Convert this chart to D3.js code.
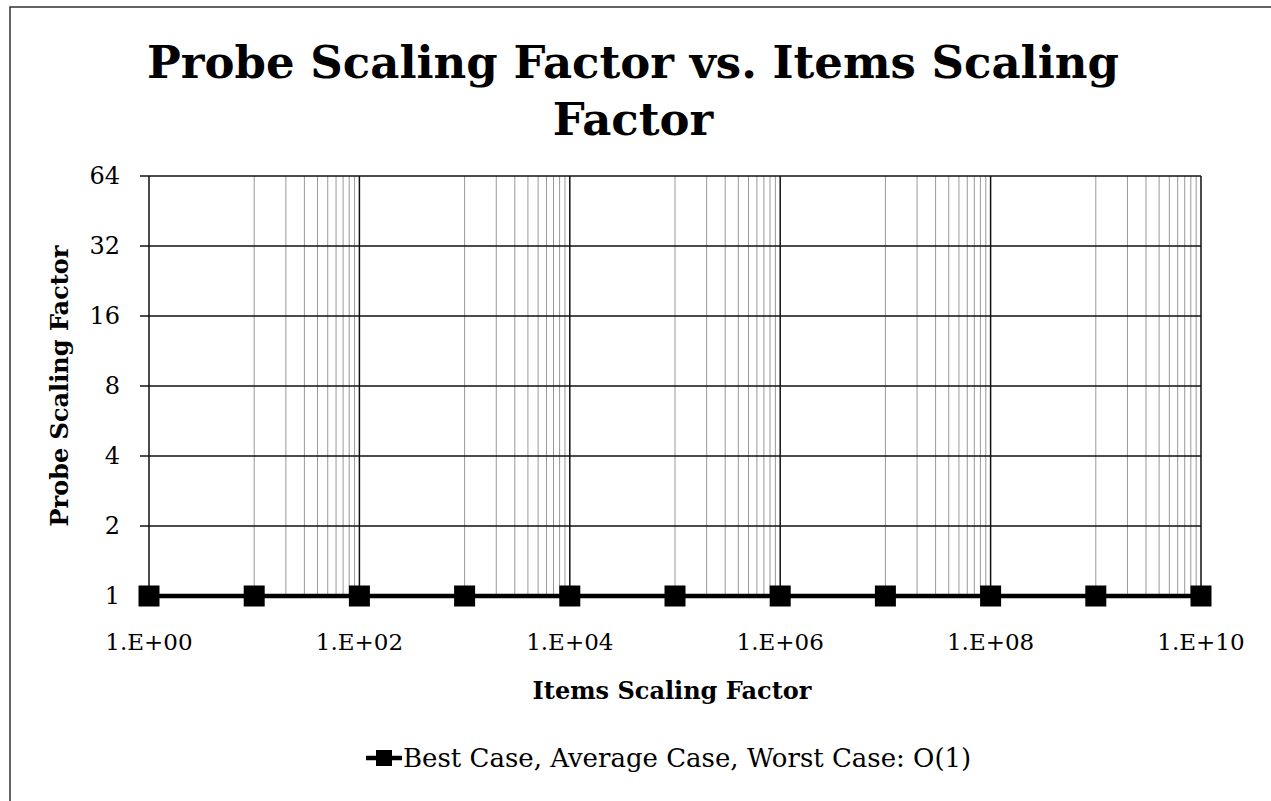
<!DOCTYPE html>
<html>
<head>
<meta charset="utf-8">
<script src="https://cdn.jsdelivr.net/npm/d3@7"></script>
<style>
  body { margin: 0; background: #fff; }
  svg { display: block; }
  text { font-family: "DejaVu Serif", "Liberation Serif", serif; fill: #000; }
</style>
</head>
<body>
<div id="chart"></div>
<script>
// Datos
const titleLines = ["Probe Scaling Factor vs. Items Scaling", "Factor"]
const xValues = [1e0, 1e1, 1e2, 1e3, 1e4, 1e5, 1e6, 1e7, 1e8, 1e9, 1e10]
const yValues = [1, 1, 1, 1, 1, 1, 1, 1, 1, 1, 1]
const xMajorTicks = [1e0, 1e2, 1e4, 1e6, 1e8, 1e10]
const xTickLabels = ["1.E+00", "1.E+02", "1.E+04", "1.E+06", "1.E+08", "1.E+10"]
const yTicks = [1, 2, 4, 8, 16, 32, 64]
const seriesName = "Best Case, Average Case, Worst Case: O(1)"

const width = 1271, height = 801
const margin = { left: 149, right: 70, top: 176, bottom: 205 }

const svg = d3.select("#chart")
  .append("svg")
  .attr("width", width)
  .attr("height", height)

// Marco exterior
svg.append("rect")
  .attr("x", 10).attr("y", 7)
  .attr("width", 1262).attr("height", 800)
  .attr("fill", "none")
  .attr("stroke", "#333")
  .attr("stroke-width", 1.5)

// Escalas
const x = d3.scaleLog().domain([1, 1e10]).range([margin.left, width - margin.right])
const y = d3.scaleLog().base(2).domain([1, 64]).range([height - margin.bottom, margin.top])

// Lineas menores: decadas impares (10^k * 1..9)
const minor = []
for (let k = 1; k < 10; k += 2)
  for (let m = 1; m <= 9; m++) minor.push(m * Math.pow(10, k))

const g = svg.append("g")

g.selectAll("line.minor")
  .data(minor)
  .join("line")
  .attr("class", "minor")
  .attr("x1", d => x(d)).attr("x2", d => x(d))
  .attr("y1", y(64)).attr("y2", y(1))
  .attr("stroke", "#999")
  .attr("stroke-width", 1)

// Horizontales
g.selectAll("line.hgrid")
  .data(yTicks)
  .join("line")
  .attr("class", "hgrid")
  .attr("x1", x(1) - 9).attr("x2", x(1e10))
  .attr("y1", d => y(d)).attr("y2", d => y(d))
  .attr("stroke", "#111")
  .attr("stroke-width", 1.5)

// Verticales mayores
g.selectAll("line.major")
  .data(xMajorTicks)
  .join("line")
  .attr("class", "major")
  .attr("x1", d => x(d)).attr("x2", d => x(d))
  .attr("y1", y(64)).attr("y2", y(1))
  .attr("stroke", "#111")
  .attr("stroke-width", 1.5)

// Etiquetas eje Y
g.selectAll("text.ytick")
  .data(yTicks)
  .join("text")
  .attr("class", "ytick")
  .attr("x", x(1) - 29)
  .attr("y", d => y(d))
  .attr("dy", "0.35em")
  .attr("text-anchor", "end")
  .style("font-size", "24px")
  .text(d => d)

// Etiquetas eje X
g.selectAll("text.xtick")
  .data(xMajorTicks)
  .join("text")
  .attr("class", "xtick")
  .attr("x", d => x(d))
  .attr("y", y(1) + 54)
  .attr("text-anchor", "middle")
  .style("font-size", "23px")
  .text((d, i) => xTickLabels[i])

// Serie
const pts = xValues.map((d, i) => [d, yValues[i]])
g.append("path")
  .datum(pts)
  .attr("fill", "none")
  .attr("stroke", "#000")
  .attr("stroke-width", 4.5)
  .attr("d", d3.line().x(d => x(d[0])).y(d => y(d[1])))

g.selectAll("rect.marker")
  .data(pts)
  .join("rect")
  .attr("class", "marker")
  .attr("x", d => x(d[0]) - 10.5)
  .attr("y", d => y(d[1]) - 10.5)
  .attr("width", 21).attr("height", 21)
  .attr("fill", "#000")

// Titulo
svg.selectAll("text.title")
  .data(titleLines)
  .join("text")
  .attr("class", "title")
  .attr("x", 633)
  .attr("y", (d, i) => 78 + i * 57)
  .attr("text-anchor", "middle")
  .style("font-size", "45px")
  .style("font-weight", "bold")
  .text(d => d)

// Titulos de ejes
svg.append("text")
  .attr("x", 672).attr("y", 699)
  .attr("text-anchor", "middle")
  .style("font-size", "24px")
  .style("font-weight", "bold")
  .text("Items Scaling Factor")

svg.append("text")
  .attr("transform", `translate(68, 386) rotate(-90)`)
  .attr("text-anchor", "middle")
  .style("font-size", "24px")
  .style("font-weight", "bold")
  .text("Probe Scaling Factor")

// Leyenda
const leg = svg.append("g").attr("transform", "translate(366, 758)")
leg.append("line")
  .attr("x1", 0).attr("x2", 36)
  .attr("stroke", "#000").attr("stroke-width", 4.5)
leg.append("rect")
  .attr("x", 10).attr("y", -8)
  .attr("width", 16).attr("height", 16)
  .attr("fill", "#000")
leg.append("text")
  .attr("x", 37).attr("dy", "0.35em")
  .style("font-size", "26px")
  .text(seriesName)
</script>
</body>
</html>
